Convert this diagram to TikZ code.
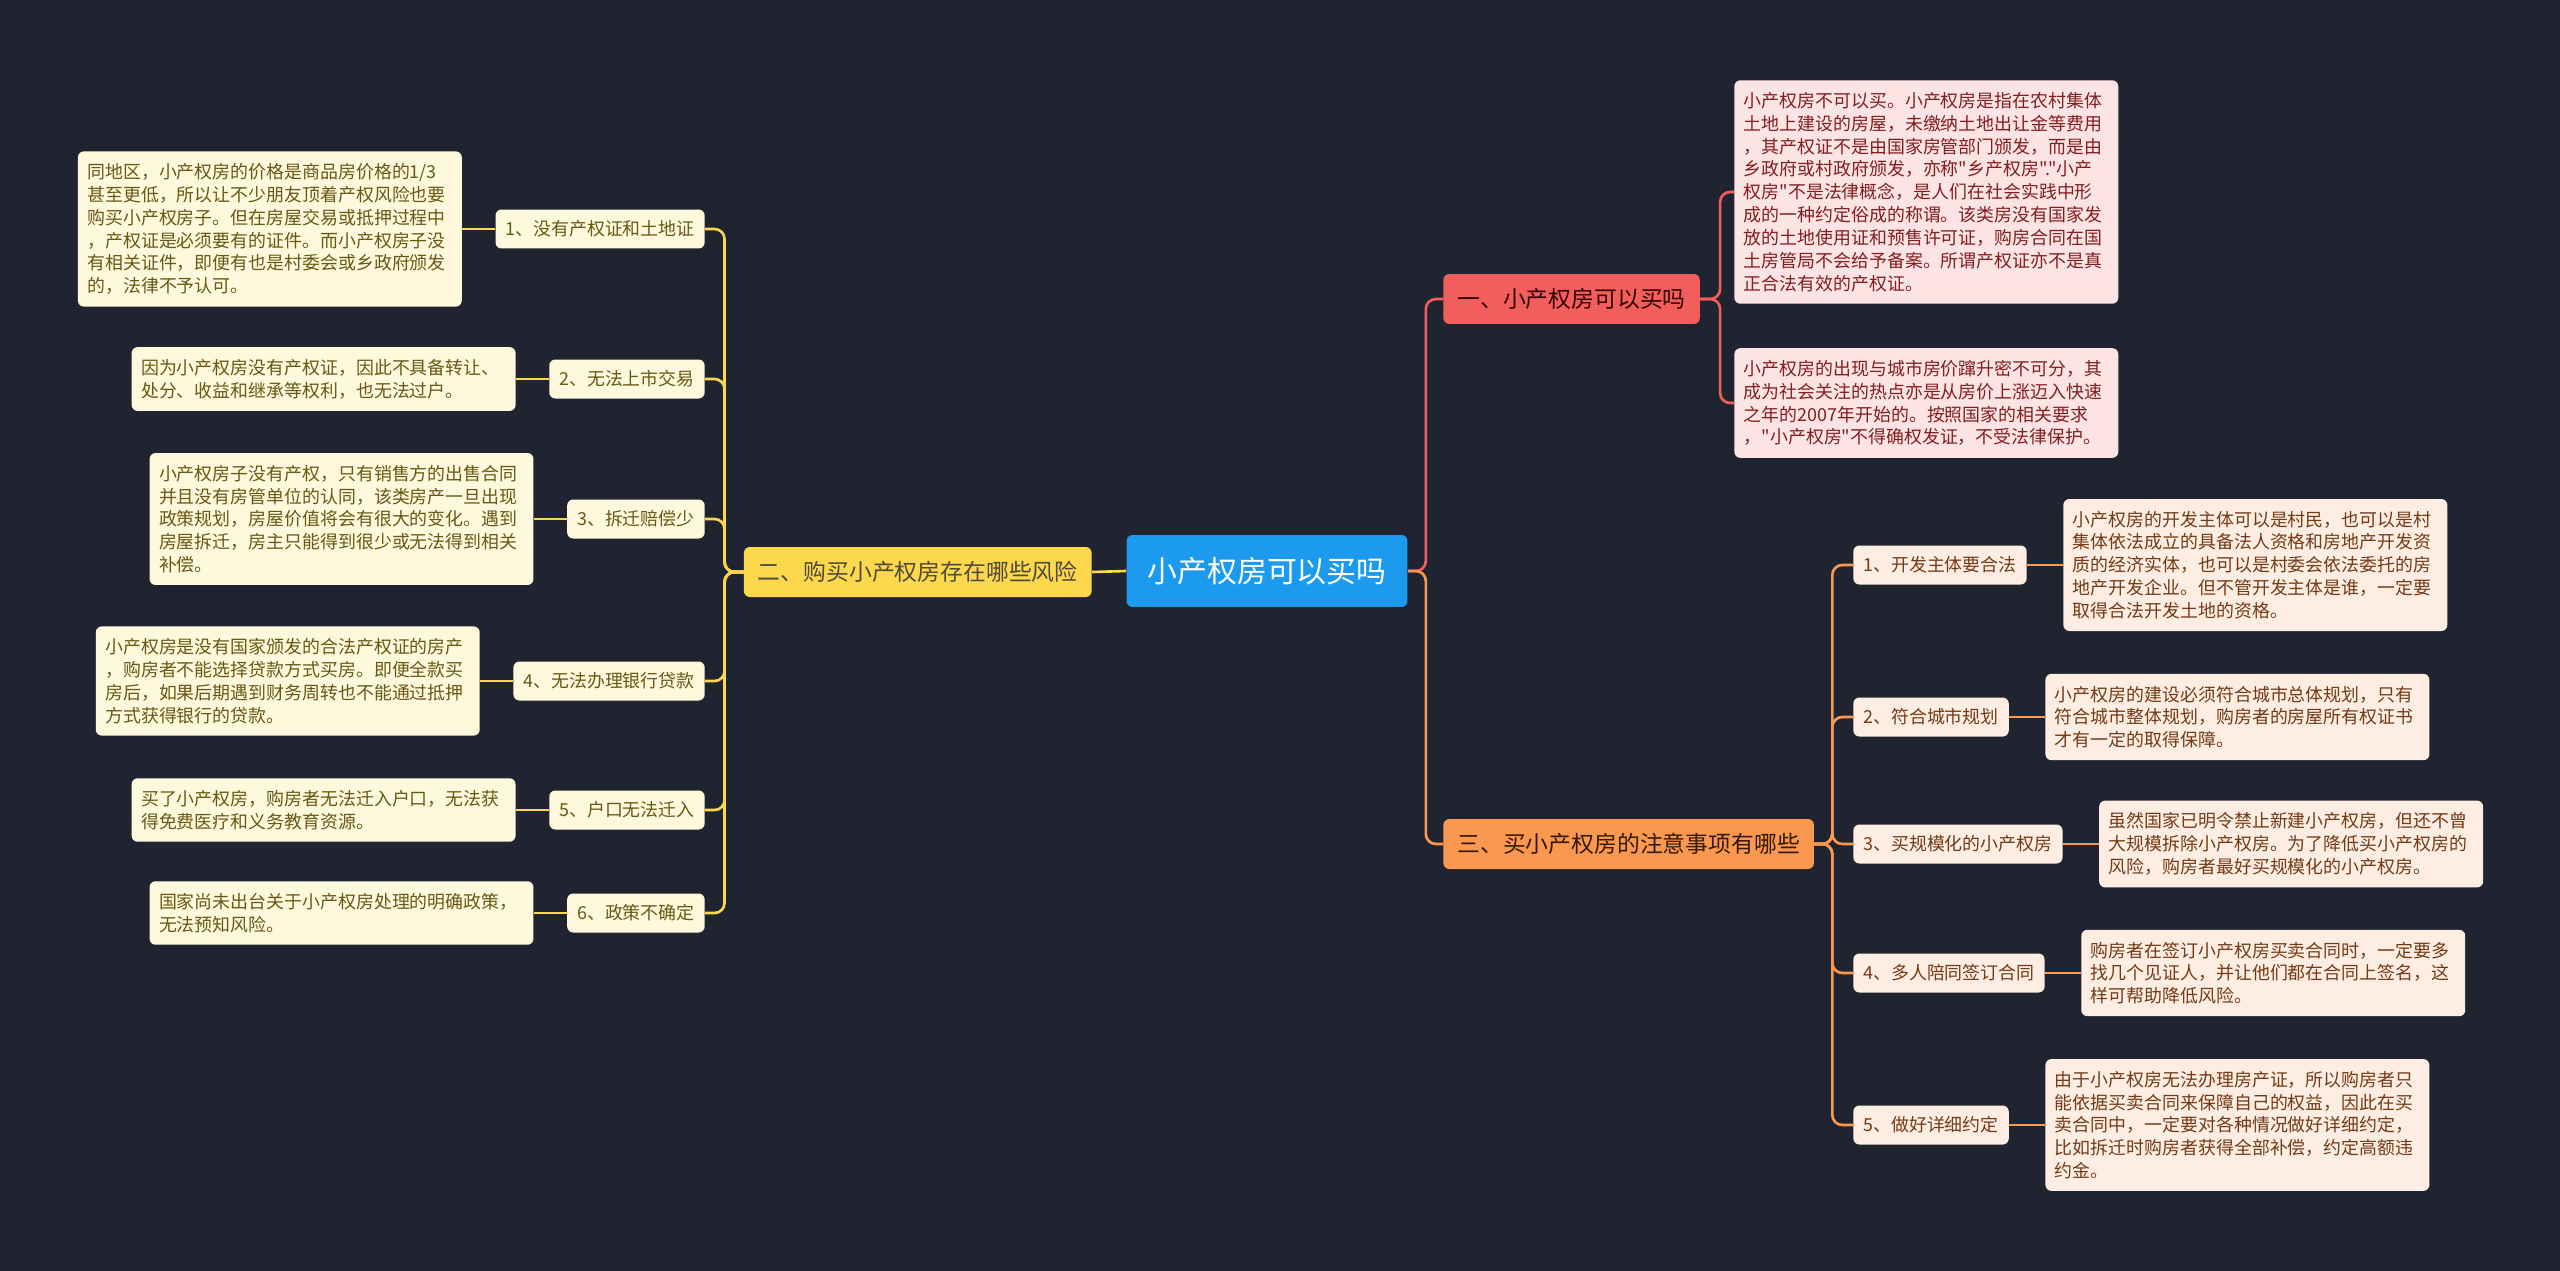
\documentclass[tikz,border=0pt]{standalone}
\usepackage{fontspec}
\newfontfamily\cjk{Noto Sans CJK SC}
\usetikzlibrary{positioning}

\definecolor{bgdark}{RGB}{32,36,48}
\definecolor{rootblue}{RGB}{27,154,238}
\definecolor{redmain}{RGB}{242,94,92}
\definecolor{yellowmain}{RGB}{253,216,76}
\definecolor{orangemain}{RGB}{250,152,80}
\definecolor{redleaf}{RGB}{253,228,228}
\definecolor{redtext}{RGB}{130,30,30}
\definecolor{yellowleaf}{RGB}{254,248,220}
\definecolor{yellowtext}{RGB}{105,88,20}
\definecolor{orangeleaf}{RGB}{253,237,226}
\definecolor{orangetext}{RGB}{115,58,20}

\tikzset{
  box/.style={rounded corners=0.12cm, inner xsep=0.2cm, font=\cjk\fontsize{10.2pt}{13pt}\selectfont},
  leafbox/.style={box, align=left, text width=7.3cm, inner xsep=0.19cm, inner ysep=0.24cm},
  subbox/.style={box, minimum height=0.78cm},
  mainbox/.style={box, minimum height=1cm, inner xsep=0.28cm, font=\cjk\fontsize{13pt}{16pt}\selectfont},
  link/.style={line width=1.5pt, rounded corners=0.2cm},
}

\begin{document}
\begin{tikzpicture}[x=0.02cm, y=-0.02cm]

  % Background and page size
  \fill[bgdark] (0,0) rectangle (2560,1271);
  \useasboundingbox (0,0) rectangle (2560,1271);

  % Root node
  \node[box, fill=rootblue, text=white, minimum width=5.62cm, minimum height=1.44cm,
        font=\cjk\fontsize{17pt}{20pt}\selectfont] (root) at (1267,571) {小产权房可以买吗};

  % Main branches
  \node[mainbox, fill=redmain, text=black!80!red, anchor=west] (b1) at (1443,299) {一、小产权房可以买吗};
  \node[mainbox, fill=yellowmain, text=black!80!yellow, anchor=east] (b2) at (1092,572) {二、购买小产权房存在哪些风险};
  \node[mainbox, fill=orangemain, text=black!80!orange, anchor=west] (b3) at (1443,844) {三、买小产权房的注意事项有哪些};

  % Branch one: leaves
  \node[leafbox, fill=redleaf, text=redtext, anchor=west] (l1a) at (1734,192) {小产权房不可以买。小产权房是指在农村集体\\土地上建设的房屋，未缴纳土地出让金等费用\\，其产权证不是由国家房管部门颁发，而是由\\乡政府或村政府颁发，亦称"乡产权房"."小产\\权房"不是法律概念，是人们在社会实践中形\\成的一种约定俗成的称谓。该类房没有国家发\\放的土地使用证和预售许可证，购房合同在国\\土房管局不会给予备案。所谓产权证亦不是真\\正合法有效的产权证。};
  \node[leafbox, fill=redleaf, text=redtext, anchor=west] (l1b) at (1734,403) {小产权房的出现与城市房价蹿升密不可分，其\\成为社会关注的热点亦是从房价上涨迈入快速\\之年的2007年开始的。按照国家的相关要求\\，"小产权房"不得确权发证，不受法律保护。};

  % Branch two: sub nodes
  \node[subbox, fill=yellowleaf, text=yellowtext, anchor=east] (s21) at (705,229) {1、没有产权证和土地证};
  \node[subbox, fill=yellowleaf, text=yellowtext, anchor=east] (s22) at (705,379) {2、无法上市交易};
  \node[subbox, fill=yellowleaf, text=yellowtext, anchor=east] (s23) at (705,519) {3、拆迁赔偿少};
  \node[subbox, fill=yellowleaf, text=yellowtext, anchor=east] (s24) at (705,681) {4、无法办理银行贷款};
  \node[subbox, fill=yellowleaf, text=yellowtext, anchor=east] (s25) at (705,810) {5、户口无法迁入};
  \node[subbox, fill=yellowleaf, text=yellowtext, anchor=east] (s26) at (705,913) {6、政策不确定};

  % Branch two: leaves
  \node[leafbox, fill=yellowleaf, text=yellowtext, left=0.66cm of s21] (l21) {同地区，小产权房的价格是商品房价格的1/3\\甚至更低，所以让不少朋友顶着产权风险也要\\购买小产权房子。但在房屋交易或抵押过程中\\，产权证是必须要有的证件。而小产权房子没\\有相关证件，即便有也是村委会或乡政府颁发\\的，法律不予认可。};
  \node[leafbox, fill=yellowleaf, text=yellowtext, left=0.66cm of s22] (l22) {因为小产权房没有产权证，因此不具备转让、\\处分、收益和继承等权利，也无法过户。};
  \node[leafbox, fill=yellowleaf, text=yellowtext, left=0.66cm of s23] (l23) {小产权房子没有产权，只有销售方的出售合同\\并且没有房管单位的认同，该类房产一旦出现\\政策规划，房屋价值将会有很大的变化。遇到\\房屋拆迁，房主只能得到很少或无法得到相关\\补偿。};
  \node[leafbox, fill=yellowleaf, text=yellowtext, left=0.66cm of s24] (l24) {小产权房是没有国家颁发的合法产权证的房产\\，购房者不能选择贷款方式买房。即便全款买\\房后，如果后期遇到财务周转也不能通过抵押\\方式获得银行的贷款。};
  \node[leafbox, fill=yellowleaf, text=yellowtext, left=0.66cm of s25] (l25) {买了小产权房，购房者无法迁入户口，无法获\\得免费医疗和义务教育资源。};
  \node[leafbox, fill=yellowleaf, text=yellowtext, left=0.66cm of s26] (l26) {国家尚未出台关于小产权房处理的明确政策，\\无法预知风险。};

  % Branch three: sub nodes
  \node[subbox, fill=orangeleaf, text=orangetext, anchor=west] (s31) at (1853,565) {1、开发主体要合法};
  \node[subbox, fill=orangeleaf, text=orangetext, anchor=west] (s32) at (1853,717) {2、符合城市规划};
  \node[subbox, fill=orangeleaf, text=orangetext, anchor=west] (s33) at (1853,844) {3、买规模化的小产权房};
  \node[subbox, fill=orangeleaf, text=orangetext, anchor=west] (s34) at (1853,973) {4、多人陪同签订合同};
  \node[subbox, fill=orangeleaf, text=orangetext, anchor=west] (s35) at (1853,1125) {5、做好详细约定};

  % Branch three: leaves
  \node[leafbox, fill=orangeleaf, text=orangetext, right=0.72cm of s31] (l31) {小产权房的开发主体可以是村民，也可以是村\\集体依法成立的具备法人资格和房地产开发资\\质的经济实体，也可以是村委会依法委托的房\\地产开发企业。但不管开发主体是谁，一定要\\取得合法开发土地的资格。};
  \node[leafbox, fill=orangeleaf, text=orangetext, right=0.72cm of s32] (l32) {小产权房的建设必须符合城市总体规划，只有\\符合城市整体规划，购房者的房屋所有权证书\\才有一定的取得保障。};
  \node[leafbox, fill=orangeleaf, text=orangetext, right=0.72cm of s33] (l33) {虽然国家已明令禁止新建小产权房，但还不曾\\大规模拆除小产权房。为了降低买小产权房的\\风险，购房者最好买规模化的小产权房。};
  \node[leafbox, fill=orangeleaf, text=orangetext, right=0.72cm of s34] (l34) {购房者在签订小产权房买卖合同时，一定要多\\找几个见证人，并让他们都在合同上签名，这\\样可帮助降低风险。};
  \node[leafbox, fill=orangeleaf, text=orangetext, right=0.72cm of s35] (l35) {由于小产权房无法办理房产证，所以购房者只\\能依据买卖合同来保障自己的权益，因此在买\\卖合同中，一定要对各种情况做好详细约定，\\比如拆迁时购房者获得全部补偿，约定高额违\\约金。};

  % Connectors from the root
  \draw[link, redmain] (root.east) -- ++(18,0) |- (b1.west);
  \draw[link, orangemain] (root.east) -- ++(18,0) |- (b3.west);
  \draw[link, yellowmain] (root.west) -- (b2.east);

  % Connectors inside the branches
  \foreach \n in {l1a,l1b}
    \draw[link, redmain] (b1.east) -- ++(20,0) |- (\n.west);
  \foreach \i in {1,...,6} {
    \draw[link, yellowmain] (b2.west) -- ++(-19,0) |- (s2\i.east);
    \draw[link, yellowmain] (s2\i.west) -- (l2\i.east);
  }
  \foreach \i in {1,...,5} {
    \draw[link, orangemain] (b3.east) -- ++(18,0) |- (s3\i.west);
    \draw[link, orangemain] (s3\i.east) -- (l3\i.west);
  }
\end{tikzpicture}
\end{document}
